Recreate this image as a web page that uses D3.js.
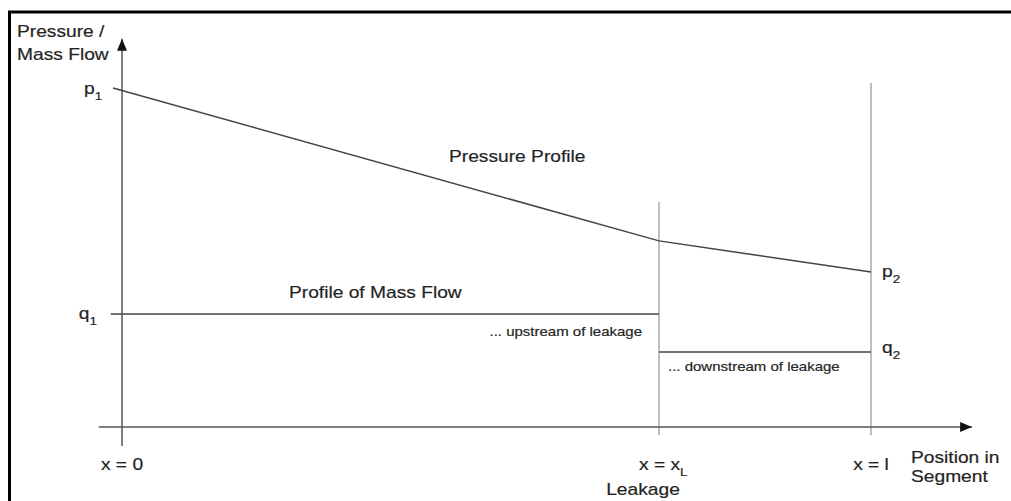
<!DOCTYPE html>
<html lang='en'>
  <head>
    <meta charset='utf-8'>
    <title>Pressure and Mass Flow Profile</title>
    <style>
      html, body { margin: 0; padding: 0; background: #fff; }
      svg { display: block; }
      text { font-family: "Liberation Sans", Arial, Helvetica, sans-serif; fill: #222; stroke: #333; stroke-width: 0.2px; }
    </style>
  </head>
  <body>
    <div id="container"></div>
    <script src='https://cdnjs.cloudflare.com/ajax/libs/d3/7.8.5/d3.min.js'></script>
    <script>
      // position along segment (0 .. l = 1) and normalised pressure / flow
      var pressureX = [-0.012, 0.717, 1.0];
      var pressureY = [1.0, 0.549, 0.457];
      var flowUpX = [-0.015, 0.717];
      var flowUpY = [0.333, 0.333];
      var flowDownX = [0.717, 1.0];
      var flowDownY = [0.221, 0.221];
      var markerX = [0.717, 1.0];
      var markerTop = [0.664, 1.015];
      var markerBottom = -0.024;
      var xAxisExtent = [-0.031, 1.135];
      var yAxisExtent = [-0.056, 1.145];
      var tickPos = [0, 0.717, 1.0];
      var tickLabels = [["x = 0", ""], ["x = x", "L"], ["x = l", ""]];

      var w = 1011, h = 501;
      var stretch = 1.2;

      var x = d3.scaleLinear().domain([0, 1]).range([122, 871]);
      var y = d3.scaleLinear().domain([0, 1]).range([427, 88]);

      var svg = d3.select("#container").append("svg")
        .attr("width", w)
        .attr("height", h);

      // frame, cut off at right and bottom
      svg.append("path")
        .attr("d", "M9.5," + (h + 5) + " V12 H" + (w + 5))
        .attr("fill", "none")
        .attr("stroke", "#000")
        .attr("stroke-width", 3);

      var defs = svg.append("defs");
      defs.append("marker")
        .attr("id", "arrow")
        .attr("markerUnits", "userSpaceOnUse")
        .attr("viewBox", "0 0 12 10")
        .attr("refX", 12).attr("refY", 5)
        .attr("markerWidth", 12).attr("markerHeight", 10)
        .attr("orient", "auto")
        .append("path")
        .attr("d", "M0,0 L12,5 L0,10 Z")
        .attr("fill", "#111");

      var line = d3.line()
        .x(function(d) { return x(d[0]); })
        .y(function(d) { return y(d[1]); });

      // leakage and segment-end markers
      svg.selectAll("line.marker")
        .data(markerX)
        .enter()
        .append("line")
        .attr("class", "marker")
        .attr("x1", function(d) { return x(d); })
        .attr("x2", function(d) { return x(d); })
        .attr("y1", function(d, i) { return y(markerTop[i]); })
        .attr("y2", y(markerBottom))
        .attr("stroke", "#aaa")
        .attr("stroke-width", 1.5);

      // axes
      svg.append("line")
        .attr("x1", x(xAxisExtent[0])).attr("x2", x(xAxisExtent[1]))
        .attr("y1", y(0)).attr("y2", y(0))
        .attr("stroke", "#555").attr("stroke-width", 1.5)
        .attr("marker-end", "url(#arrow)");
      svg.append("line")
        .attr("x1", x(0)).attr("x2", x(0))
        .attr("y1", y(yAxisExtent[0])).attr("y2", y(yAxisExtent[1]))
        .attr("stroke", "#555").attr("stroke-width", 1.5)
        .attr("marker-end", "url(#arrow)");

      // profiles
      svg.append("path")
        .datum(d3.zip(pressureX, pressureY))
        .attr("d", line)
        .attr("fill", "none").attr("stroke", "#444").attr("stroke-width", 1.5);
      svg.append("path")
        .datum(d3.zip(flowUpX, flowUpY))
        .attr("d", line)
        .attr("fill", "none").attr("stroke", "#444").attr("stroke-width", 1.5);
      svg.append("path")
        .datum(d3.zip(flowDownX, flowDownY))
        .attr("d", line)
        .attr("fill", "none").attr("stroke", "#444").attr("stroke-width", 1.5);

      function label(px, py, main, sub, size, anchor) {
        var t = svg.append("text")
          .attr("transform", "translate(" + px + "," + py + ") scale(" + stretch + ",1)")
          .attr("font-size", size)
          .attr("text-anchor", anchor || "start");
        t.append("tspan").text(main);
        if (sub) {
          t.append("tspan")
            .attr("dy", size * 0.38)
            .attr("font-size", size * 0.7)
            .text(sub);
        }
        return t;
      }

      label(17, 37, "Pressure /", "", 16);
      label(17, 60, "Mass Flow", "", 16);

      label(x(pressureX[0]) - 29, y(pressureY[0]) + 6, "p", "1", 16);
      label(x(flowUpX[0]) - 32, y(flowUpY[0]) + 5, "q", "1", 16);
      label(x(1) + 11, y(pressureY[2]) + 5, "p", "2", 16);
      label(x(1) + 11, y(flowDownY[1]) + 1, "q", "2", 16);

      label(449, 162, "Pressure Profile", "", 16);
      label(289, 298, "Profile of Mass Flow", "", 16);
      label(642, 336, "...  upstream of leakage", "", 12.5, "end");
      label(668, 371, "...  downstream of leakage", "", 12.5);

      tickPos.forEach(function(p, i) {
        label(x(p) - (tickLabels[i][1] ? 20 : 0), 470, tickLabels[i][0], tickLabels[i][1], 16,
              tickLabels[i][1] ? "start" : "middle");
      });
      label(643, 495, "Leakage", "", 16, "middle");
      label(911, 463, "Position in", "", 16);
      label(911, 482, "Segment", "", 16);
    </script>
  </body>
</html>
